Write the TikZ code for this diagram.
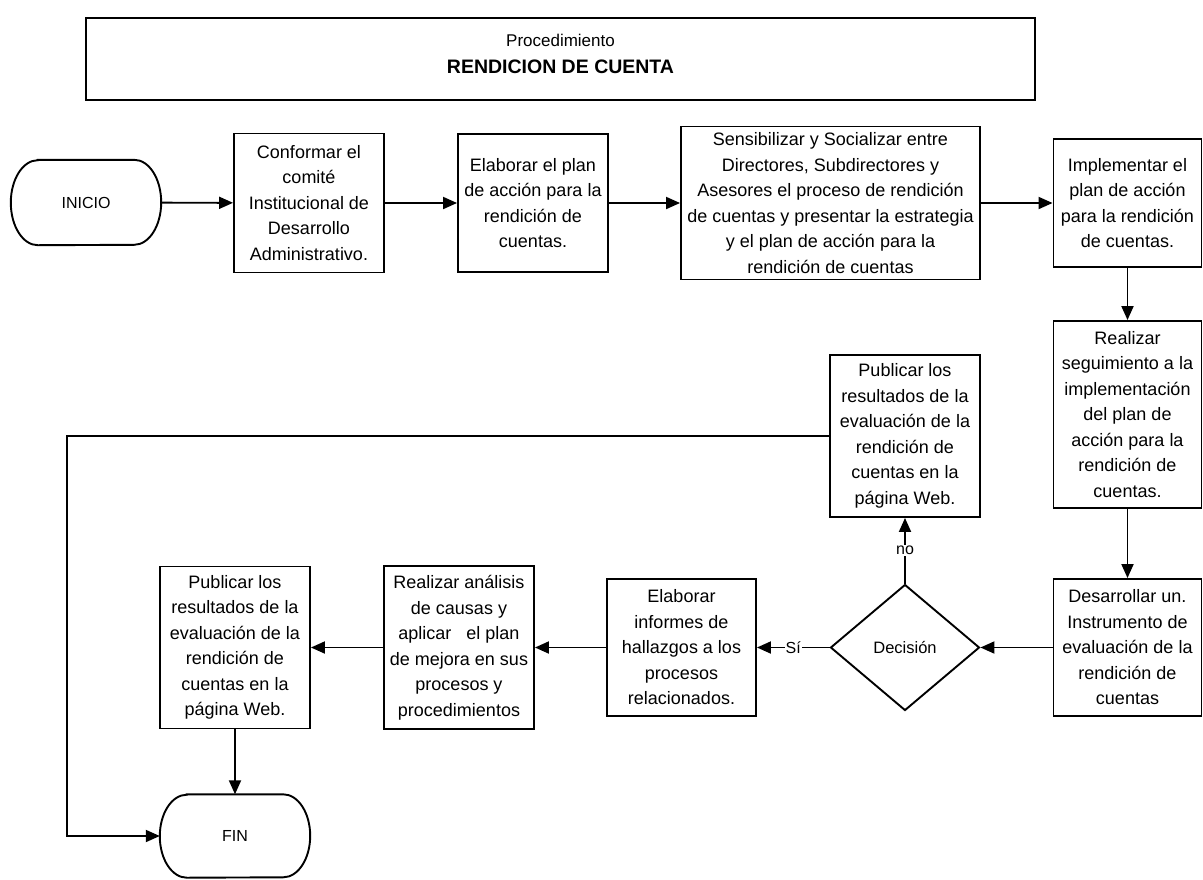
\documentclass[tikz,border=0pt]{standalone}
\usepackage{fontspec}
\setmainfont{Liberation Sans}
\usetikzlibrary{arrows.meta,shapes.geometric}
\begin{document}
\begin{tikzpicture}[
    x = 1pt, y = -1pt,
    box/.style = {draw, line width=1.9pt, inner sep=2pt, align=center,
                  font=\fontsize{18}{25.5}\selectfont},
    term/.style = {minimum width=150pt, font=\fontsize{16}{20}\selectfont},
    dec/.style = {draw, diamond, line width=1.9pt, inner sep=0pt,
                  minimum width=149pt, minimum height=126pt,
                  font=\fontsize{16.5}{20}\selectfont},
    flow/.style = {draw, line width=1.9pt, -{Triangle[length=14pt,width=12pt]}},
    lbl/.style = {fill=white, inner sep=1pt, font=\fontsize{16}{20}\selectfont}
  ]
  \useasboundingbox (0,0) rectangle (1203,879);

  % title
  \node[draw, line width=2pt, minimum width=949pt, minimum height=82pt] (title) at (560.5,59) {};
  \node[align=center, font=\fontsize{17}{27}\selectfont, yshift=5pt] (titletext) at (title.center)
    {Procedimiento\\{\fontsize{19.5}{27}\selectfont\bfseries RENDICION DE CUENTA}};

  % top row
  \node[term, minimum height=85pt] (inicio) at (86,202.5) {INICIO};
  \node[box, minimum width=150pt, minimum height=139pt] (conformar) at (309,203)
    {Conformar el\\comité\\Institucional de\\Desarrollo\\Administrativo.};
  \node[box, minimum width=150pt, minimum height=138pt] (plan) at (533,203)
    {Elaborar el plan\\de acción para la\\rendición de\\cuentas.};
  \node[box, minimum width=299pt, minimum height=153pt] (sensibilizar) at (830.5,203)
    {Sensibilizar y Socializar entre\\Directores, Subdirectores y\\Asesores el proceso de rendición\\de cuentas y presentar la estrategia\\y el plan de acción para la\\rendición de cuentas};
  \node[box, minimum width=148pt, minimum height=128pt] (implementar) at (1127.5,203)
    {Implementar el\\plan de acción\\para la rendición\\de cuentas.};

  % right column
  \node[box, minimum width=148pt, minimum height=187pt] (seguimiento) at (1127.5,414.5)
    {Realizar\\seguimiento a la\\implementación\\del plan de\\acción para la\\rendición de\\cuentas.};
  \node[box, minimum width=148pt, minimum height=137pt] (desarrollar) at (1127.5,647.5)
    {Desarrollar un.\\Instrumento de\\evaluación de la\\rendición de\\cuentas};

  % bottom row
  \node[dec] (decision) at (905,647.5) {Decisión};
  \node[box, minimum width=150pt, minimum height=162pt] (pubweb) at (905,436)
    {Publicar los\\resultados de la\\evaluación de la\\rendición de\\cuentas en la\\página Web.};
  \node[box, minimum width=149pt, minimum height=137pt] (informes) at (681.5,647.5)
    {Elaborar\\informes de\\hallazgos a los\\procesos\\relacionados.};
  \node[box, minimum width=150pt, minimum height=163pt] (analisis) at (459,647.5)
    {Realizar análisis\\de causas y\\aplicar\ \ \ el plan\\de mejora en sus\\procesos y\\procedimientos};
  \node[box, minimum width=150pt, minimum height=162pt] (publicar) at (235,647.5)
    {Publicar los\\resultados de la\\evaluación de la\\rendición de\\cuentas en la\\página Web.};
  \node[term, minimum height=83pt] (fin) at (235,836) {FIN};

  % terminal outlines
  \foreach \t/\r in {inicio/42.5, fin/41.5}
    \draw[line width=1.9pt] ([xshift=27pt]\t.north west) -- ([xshift=-27pt]\t.north east)
      arc[start angle=90, end angle=-90, x radius=27pt, y radius=\r pt]
      -- ([xshift=27pt]\t.south west)
      arc[start angle=270, end angle=90, x radius=27pt, y radius=\r pt] -- cycle;

  \coordinate (loop) at (67,436);

  % connectors
  \draw[flow] (inicio) -- (conformar);
  \draw[flow] (conformar) -- (plan);
  \draw[flow] (plan) -- (sensibilizar);
  \draw[flow] (sensibilizar) -- (implementar);
  \draw[flow] (implementar) -- (seguimiento);
  \draw[flow] (seguimiento) -- (desarrollar);
  \draw[flow] (desarrollar) -- (decision);
  \draw[flow] (decision.west) -- node[lbl] {Sí} (informes);
  \draw[flow] (decision.north) -- node[lbl] {no} (pubweb);
  \draw[flow] (informes) -- (analisis);
  \draw[flow] (analisis) -- (publicar);
  \draw[flow] (publicar) -- (fin);
  \draw[flow] (pubweb.west) -- (loop) |- (fin.west);
\end{tikzpicture}
\end{document}
